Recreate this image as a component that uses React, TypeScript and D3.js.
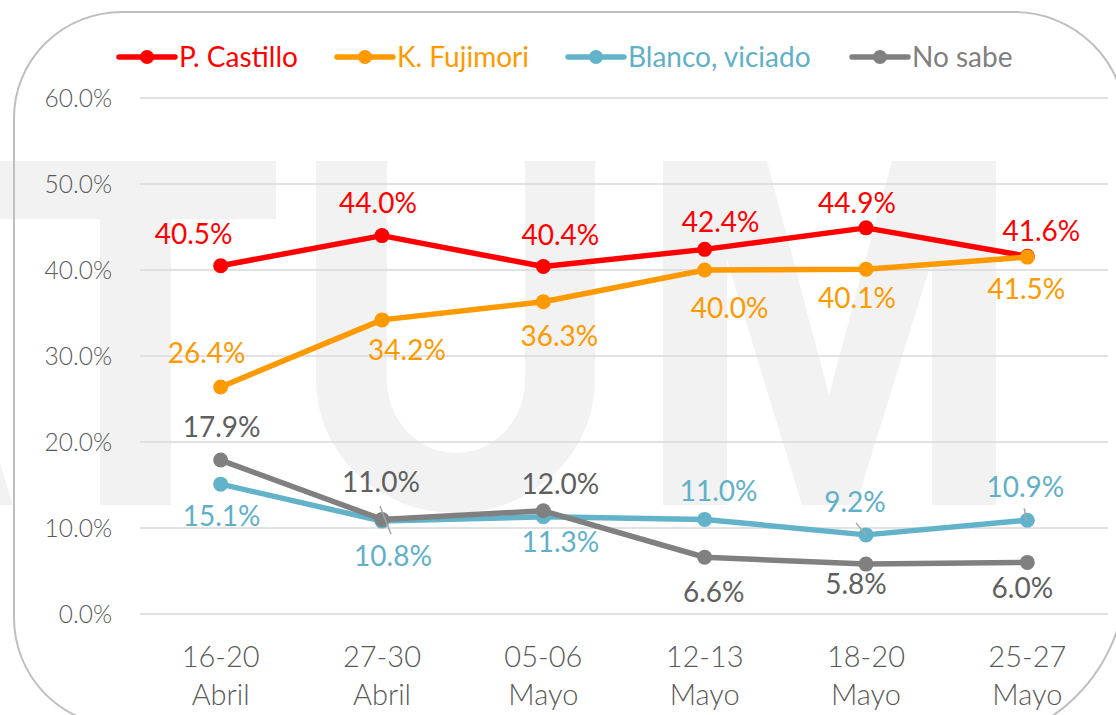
import { useEffect, useRef } from "react";
import * as d3 from "d3";

// fechas de cada encuesta (dos renglones)
const rangos = ["16-20", "27-30", "05-06", "12-13", "18-20", "25-27"];
const meses = ["Abril", "Abril", "Mayo", "Mayo", "Mayo", "Mayo"];

// intención de voto (%)
const castillo = [40.5, 44.0, 40.4, 42.4, 44.9, 41.6];
const fujimori = [26.4, 34.2, 36.3, 40.0, 40.1, 41.5];
const blanco = [15.1, 10.8, 11.3, 11.0, 9.2, 10.9];
const noSabe = [17.9, 11.0, 12.0, 6.6, 5.8, 6.0];

const yTicks = [0, 10, 20, 30, 40, 50, 60];
const seriesNames = ["P. Castillo", "K. Fujimori", "Blanco, viciado", "No sabe"];

const W = 1116;
const H = 715;
const FONT = "Lato, 'Open Sans', sans-serif";

export default function App() {
  const svgRef = useRef<SVGSVGElement>(null);

  useEffect(() => {
    if (!svgRef.current) return;
    const svg = d3.select(svgRef.current);
    svg.selectAll("*").remove();

    const x = d3.scaleBand().domain(rangos).range([140, 1108]);
    const y = d3.scaleLinear().domain([0, 60]).range([614, 98]);
    const cx = (i: number) => (x(rangos[i]) || 0) + x.bandwidth() / 2;

    const series = [
      {
        name: seriesNames[0],
        values: castillo,
        color: "#ff0000",
        text: "#ff0000",
        // label offsets from each point (manually placed in the original)
        off: [[-27, -32], [-4, -33], [17, -32], [16, -27], [-9, -25], [14, -25]],
      },
      {
        name: seriesNames[1],
        values: fujimori,
        color: "#ff9900",
        text: "#ff9900",
        off: [[-14, -34], [25, 30], [16, 34], [25, 38], [-9, 29], [-1, 32]],
      },
      {
        name: seriesNames[2],
        values: blanco,
        color: "#62b3ca",
        text: "#5fb0c8",
        off: [[1, 32], [11, 35], [17, 25], [14, -28], [-11, -33], [-2, -33]],
      },
      {
        name: seriesNames[3],
        values: noSabe,
        color: "#808080",
        text: "#5f5f5f",
        off: [[1, -33], [-1, -37], [17, -27], [9, 35], [-10, 20], [-5, 26]],
      },
    ];

    // watermark
    const wm = svg.append("g").attr("fill", "#f2f2f2");
    wm.append("path").attr("d", "M0,463 L13,505 L0,505 Z");
    wm.append("path").attr("d", "M0,161 H276 V219 H171 V505 H100 V219 H0 Z");
    wm.append("path").attr(
      "d",
      "M316,161 V380 A139.5,133 0 0 0 595,380 V161 H525 V380 A69,73 0 0 1 387,380 V161 Z"
    );
    wm.append("path").attr(
      "d",
      "M663,505 V161 H767 L829,395 L892,161 H996 V505 H932 V260 L856,505 H802 L727,260 V505 Z"
    );

    // rounded frame
    svg
      .append("path")
      .attr(
        "d",
        "M14,118 A108,106 0 0 1 122,12 H1014 A112,112 0 0 1 1126,124 V576 A170,170 0 0 1 956,746 L122,726 A108,108 0 0 1 14,618 Z"
      )
      .attr("fill", "none")
      .attr("stroke", "#bfbfbf")
      .attr("stroke-width", 2);

    // gridlines + y labels
    const grid = svg.append("g");
    grid
      .selectAll("line")
      .data(yTicks)
      .enter()
      .append("line")
      .attr("x1", 140)
      .attr("x2", 1108)
      .attr("y1", (d) => y(d))
      .attr("y2", (d) => y(d))
      .attr("stroke", "#d9d9d9")
      .attr("stroke-width", 1.5);
    grid
      .selectAll("text")
      .data(yTicks)
      .enter()
      .append("text")
      .attr("x", 112)
      .attr("y", (d) => y(d))
      .attr("dy", "0.36em")
      .attr("text-anchor", "end")
      .attr("fill", "#595959")
      .style("font-family", FONT)
      .style("font-weight", 300)
      .style("font-size", "24.5px")
      .text((d) => d.toFixed(1) + "%");

    // x labels
    const xl = svg
      .append("g")
      .attr("fill", "#595959")
      .style("font-family", FONT)
      .style("font-weight", 300)
      .style("font-size", "29px");
    rangos.forEach((r, i) => {
      xl.append("text").attr("x", cx(i)).attr("y", 667).attr("text-anchor", "middle").text(r);
      xl.append("text").attr("x", cx(i)).attr("y", 705).attr("text-anchor", "middle").text(meses[i]);
    });

    // lines + markers
    const line = d3
      .line<number>()
      .x((_d, i) => cx(i))
      .y((d) => y(d));

    series.forEach((s) => {
      const g = svg.append("g");
      g.append("path")
        .attr("d", line(s.values))
        .attr("fill", "none")
        .attr("stroke", s.color)
        .attr("stroke-width", 5.5)
        .attr("stroke-linejoin", "round");
      g.selectAll("circle")
        .data(s.values)
        .enter()
        .append("circle")
        .attr("cx", (_d, i) => cx(i))
        .attr("cy", (d) => y(d))
        .attr("r", 7.5)
        .attr("fill", s.color);
    });

    // leader lines for moved labels
    const leaders = [
      { i: 1, v: blanco[1], d: [-2, -15, 9, 13] },
      { i: 4, v: blanco[4], d: [-10, -12, 0, 0] },
      { i: 5, v: blanco[5], d: [-3, -12, -1, 0] },
    ];
    svg
      .append("g")
      .selectAll("line")
      .data(leaders)
      .enter()
      .append("line")
      .attr("x1", (d) => cx(d.i) + d.d[0])
      .attr("y1", (d) => y(d.v) + d.d[1])
      .attr("x2", (d) => cx(d.i) + d.d[2])
      .attr("y2", (d) => y(d.v) + d.d[3])
      .attr("stroke", "#a6a6a6")
      .attr("stroke-width", 1.5);

    // data labels
    series.forEach((s) => {
      svg
        .append("g")
        .selectAll("text")
        .data(s.values)
        .enter()
        .append("text")
        .attr("x", (_d, i) => cx(i) + s.off[i][0])
        .attr("y", (d, i) => y(d) + s.off[i][1])
        .attr("dy", "0.36em")
        .attr("text-anchor", "middle")
        .attr("fill", s.text)
        .style("font-family", FONT)
        .style("font-size", "28px")
        .text((d) => d.toFixed(1) + "%");
    });

    // legend
    const legendX = [119, 337, 568, 852];
    const legendText = ["#ff0000", "#ff9900", "#5fb0c8", "#7f7f7f"];
    const legend = svg.append("g");
    series.forEach((s, k) => {
      const it = legend.append("g").attr("transform", `translate(${legendX[k]},57)`);
      it.append("line").attr("x1", 0).attr("x2", 56).attr("stroke", s.color).attr("stroke-width", 5.5).attr("stroke-linecap", "round");
      it.append("circle").attr("cx", 28).attr("r", 7).attr("fill", s.color);
      it.append("text")
        .attr("x", 60)
        .attr("dy", "0.36em")
        .attr("fill", legendText[k])
        .style("font-family", FONT)
        .style("font-size", "28px")
        .text(s.name);
    });
  }, []);

  return (
    <div style={{ position: "fixed", left: 0, top: 0, width: W, height: H, background: "#fff" }}>
      <svg ref={svgRef} width={W} height={H} style={{ display: "block" }} />
    </div>
  );
}
